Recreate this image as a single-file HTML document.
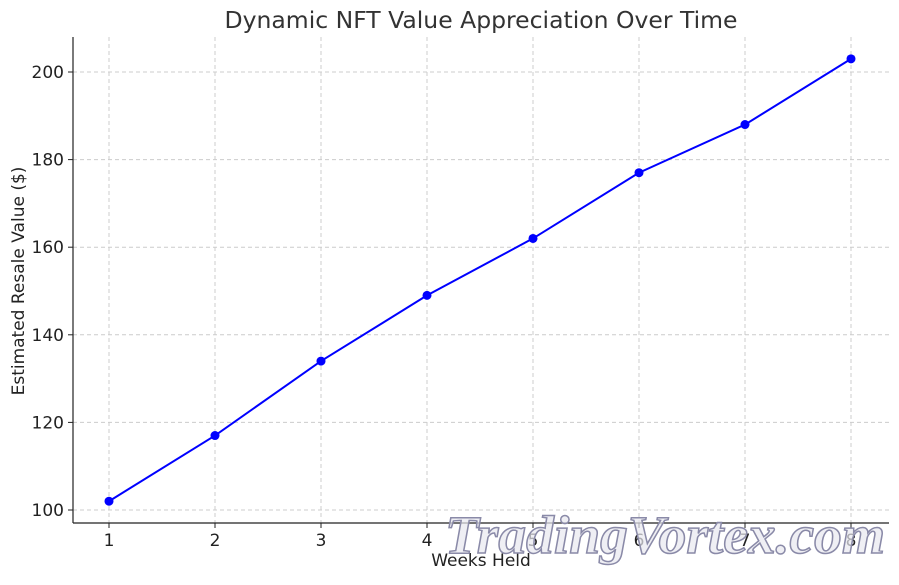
<!DOCTYPE html>
<html><head><meta charset="utf-8"><style>
body{margin:0;background:#fff;}
svg{font-family:"DejaVu Sans","Liberation Sans",sans-serif;}
</style></head><body>
<svg id="chart" width="899" height="580" xmlns="http://www.w3.org/2000/svg">
<text x="481" y="28" text-anchor="middle" font-size="23.5" fill="#333">Dynamic NFT Value Appreciation Over Time</text>
<g id="grid"></g>
<g id="axes"></g>
<g id="series"></g>
<text x="481" y="566" text-anchor="middle" font-size="17" fill="#222">Weeks Held</text>
<text transform="translate(24,281) rotate(-90)" text-anchor="middle" font-size="17" fill="#222">Estimated Resale Value ($)</text>
<text x="665" y="553" text-anchor="middle" font-size="54" font-style="italic" font-weight="bold" font-family="Liberation Serif,serif" fill="#e8e8f0" fill-opacity="0.7" stroke="#8a8aa8" stroke-width="1.5" textLength="440" lengthAdjust="spacingAndGlyphs">TradingVortex.com</text>
</svg>
<script>
const weeks=[1,2,3,4,5,6,7,8];
const values=[102,117,134,149,162,177,188,203];
const yTicks=[100,120,140,160,180,200];
const NS="http://www.w3.org/2000/svg";
const X=w=>109+(w-1)*106;
const Y=v=>510-(v-100)*4.38;
function mk(parent,tag,attrs){const e=document.createElementNS(NS,tag);for(const k in attrs)e.setAttribute(k,attrs[k]);document.getElementById(parent).appendChild(e);return e;}
weeks.forEach(w=>{
 const g=mk('grid','line',{x1:X(w),x2:X(w),y1:37,y2:523,stroke:'#ccc','stroke-dasharray':'4,3'});
 
 
 mk('axes','line',{x1:X(w),x2:X(w),y1:523,y2:528,stroke:'#222'});
 const t=mk('axes','text',{x:X(w),y:546,'text-anchor':'middle','font-size':17,fill:'#222'});t.textContent=w;
 
 
});
yTicks.forEach(v=>{
 const g=mk('grid','line',{x1:73,x2:889,y1:Y(v),y2:Y(v),stroke:'#ccc','stroke-dasharray':'4,3'});
 
 
 mk('axes','line',{x1:68,x2:73,y1:Y(v),y2:Y(v),stroke:'#222'});
 const t=mk('axes','text',{x:64,y:Y(v)+6,'text-anchor':'end','font-size':17,fill:'#222'});t.textContent=v;
 
 
});
mk('axes','line',{x1:73,x2:73,y1:37,y2:523,stroke:'#222','stroke-width':1.2});
mk('axes','line',{x1:73,x2:889,y1:523,y2:523,stroke:'#222','stroke-width':1.2});
const pl=mk('series','polyline',{points:weeks.map((w,i)=>X(w)+','+Y(values[i])).join(' '),fill:'none',stroke:'#0000ff','stroke-width':2});


weeks.forEach((w,i)=>{
 const c=mk('series','circle',{cx:X(w),cy:Y(values[i]),r:4.5,fill:'#0000ff'});
 
 
});
</script>
</body></html>
